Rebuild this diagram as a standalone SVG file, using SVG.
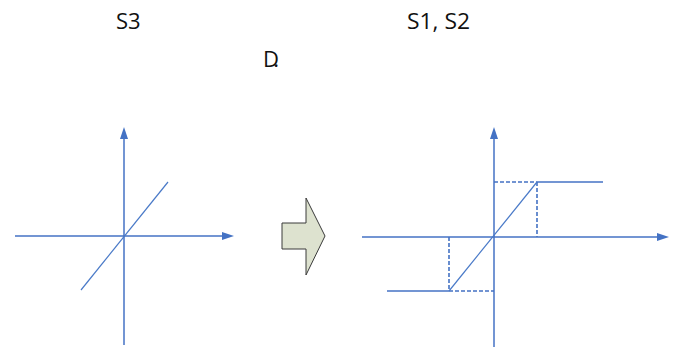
<svg xmlns="http://www.w3.org/2000/svg" width="681" height="347" viewBox="0 0 681 347">
<style>
.ax{stroke:#4472c4;stroke-width:1.5;fill:none}
.dg{stroke:#4a7ac8;stroke-width:1.2;fill:none}
.ds{stroke:#4472c4;stroke-width:1.6;fill:none;stroke-dasharray:4 2}
.hd{fill:#4472c4}
.t{font-family:"Open Sans","Liberation Sans",sans-serif;font-size:22px;fill:#111}
</style>
<rect width="681" height="347" fill="#fff"/>
<g id="labels">
<text class="t" x="116" y="29">S3</text>
<text class="t" x="407" y="29" textLength="63" lengthAdjust="spacingAndGlyphs">S1, S2</text>
<text class="t" x="263" y="67" textLength="16" lengthAdjust="spacing">D.</text>
</g>
<g id="connectors">
<line class="ax" x1="124" y1="345" x2="124" y2="130"/>
<line class="ax" x1="15" y1="236" x2="231" y2="236"/>
<line class="dg" x1="81" y1="290" x2="168" y2="182"/>
<line class="ax" x1="494" y1="347" x2="494" y2="130"/>
<line class="ax" x1="362" y1="237" x2="666" y2="237"/>
<line class="ax" x1="537" y1="182" x2="603" y2="182"/>
<line class="ds" x1="494" y1="182" x2="537" y2="182"/>
<line class="ds" x1="537" y1="182" x2="537" y2="237"/>
<line class="ax" x1="387" y1="291" x2="449" y2="291"/>
<line class="ds" x1="449" y1="291" x2="494" y2="291"/>
<line class="ds" x1="449" y1="237" x2="449" y2="291"/>
<line class="dg" x1="449" y1="291" x2="537" y2="182"/>
<path class="hd" d="M120,139 L124,127 L128,139 Z"/>
<path class="hd" d="M222,232 L234,236 L222,240 Z"/>
<path class="hd" d="M490,139 L494,127 L498,139 Z"/>
<path class="hd" d="M657,233 L669,237 L657,241 Z"/>
</g>
<g id="block-arrow">
<path d="M282,223 L306,223 L306,198 L325,236 L306,275 L306,249 L282,249 Z" fill="#dde2cf" stroke="#3a3a3a" stroke-width="1"/>
</g>
</svg>
